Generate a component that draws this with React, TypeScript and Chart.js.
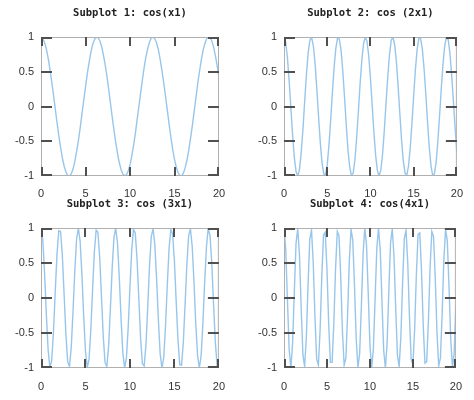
import React, { useEffect, useRef } from "react";
import { Chart, registerables } from "chart.js";

Chart.register(...registerables);

// ---------- data ----------
const X_VALUES = [
  0, 0.2, 0.4, 0.6, 0.8, 1, 1.2, 1.4, 1.6, 1.8,
  2, 2.2, 2.4, 2.6, 2.8, 3, 3.2, 3.4, 3.6, 3.8,
  4, 4.2, 4.4, 4.6, 4.8, 5, 5.2, 5.4, 5.6, 5.8,
  6, 6.2, 6.4, 6.6, 6.8, 7, 7.2, 7.4, 7.6, 7.8,
  8, 8.2, 8.4, 8.6, 8.8, 9, 9.2, 9.4, 9.6, 9.8,
  10, 10.2, 10.4, 10.6, 10.8, 11, 11.2, 11.4, 11.6, 11.8,
  12, 12.2, 12.4, 12.6, 12.8, 13, 13.2, 13.4, 13.6, 13.8,
  14, 14.2, 14.4, 14.6, 14.8, 15, 15.2, 15.4, 15.6, 15.8,
  16, 16.2, 16.4, 16.6, 16.8, 17, 17.2, 17.4, 17.6, 17.8,
  18, 18.2, 18.4, 18.6, 18.8, 19, 19.2, 19.4, 19.6, 19.8,
  20,
];

const COS_X1 = [
  1, 0.98, 0.92, 0.83, 0.7, 0.54, 0.36, 0.17, -0.03, -0.23,
  -0.42, -0.59, -0.74, -0.86, -0.94, -0.99, -1, -0.97, -0.9, -0.79,
  -0.65, -0.49, -0.31, -0.11, 0.09, 0.28, 0.47, 0.63, 0.78, 0.89,
  0.96, 1, 0.99, 0.95, 0.87, 0.75, 0.61, 0.44, 0.25, 0.05,
  -0.15, -0.34, -0.52, -0.68, -0.81, -0.91, -0.97, -1, -0.98, -0.93,
  -0.84, -0.71, -0.56, -0.39, -0.19, 0, 0.2, 0.39, 0.57, 0.72,
  0.84, 0.93, 0.99, 1, 0.97, 0.91, 0.81, 0.67, 0.51, 0.33,
  0.14, -0.06, -0.26, -0.45, -0.62, -0.76, -0.87, -0.95, -0.99, -1,
  -0.96, -0.88, -0.77, -0.63, -0.46, -0.28, -0.08, 0.12, 0.32, 0.5,
  0.66, 0.8, 0.9, 0.97, 1, 0.99, 0.94, 0.85, 0.73, 0.58,
  0.41,
];

const COS_2X1 = [
  1, 0.92, 0.7, 0.36, -0.03, -0.42, -0.74, -0.94, -1, -0.9,
  -0.65, -0.31, 0.09, 0.47, 0.78, 0.96, 0.99, 0.87, 0.61, 0.25,
  -0.15, -0.52, -0.81, -0.97, -0.98, -0.84, -0.56, -0.19, 0.2, 0.57,
  0.84, 0.99, 0.97, 0.81, 0.51, 0.14, -0.26, -0.62, -0.87, -0.99,
  -0.96, -0.77, -0.46, -0.08, 0.32, 0.66, 0.9, 1, 0.94, 0.73,
  0.41, 0.02, -0.37, -0.7, -0.92, -1, -0.92, -0.69, -0.35, 0.04,
  0.42, 0.74, 0.95, 1, 0.89, 0.65, 0.3, -0.1, -0.48, -0.78,
  -0.96, -0.99, -0.86, -0.6, -0.24, 0.15, 0.53, 0.82, 0.98, 0.98,
  0.83, 0.55, 0.19, -0.21, -0.58, -0.85, -0.99, -0.97, -0.8, -0.5,
  -0.13, 0.27, 0.62, 0.88, 1, 0.96, 0.76, 0.45, 0.07, -0.32,
  -0.67,
];

const COS_3X1 = [
  1, 0.83, 0.36, -0.23, -0.74, -0.99, -0.9, -0.49, 0.09, 0.63,
  0.96, 0.95, 0.61, 0.05, -0.52, -0.91, -0.98, -0.71, -0.19, 0.39,
  0.84, 1, 0.81, 0.33, -0.26, -0.76, -0.99, -0.88, -0.46, 0.12,
  0.66, 0.97, 0.94, 0.58, 0.02, -0.55, -0.92, -0.98, -0.69, -0.16,
  0.42, 0.86, 1, 0.79, 0.3, -0.29, -0.78, -1, -0.86, -0.43,
  0.15, 0.69, 0.98, 0.93, 0.55, -0.01, -0.58, -0.94, -0.97, -0.67,
  -0.13, 0.46, 0.88, 0.99, 0.76, 0.27, -0.32, -0.8, -1, -0.85,
  -0.4, 0.19, 0.71, 0.98, 0.91, 0.53, -0.05, -0.6, -0.95, -0.96,
  -0.64, -0.09, 0.48, 0.89, 0.99, 0.74, 0.23, -0.36, -0.82, -1,
  -0.83, -0.37, 0.22, 0.73, 0.99, 0.9, 0.5, -0.08, -0.63, -0.96,
  -0.95,
];

const COS_4X1 = [
  1, 0.7, -0.03, -0.74, -1, -0.65, 0.09, 0.78, 0.99, 0.61,
  -0.15, -0.81, -0.98, -0.56, 0.2, 0.84, 0.97, 0.51, -0.26, -0.87,
  -0.96, -0.46, 0.32, 0.9, 0.94, 0.41, -0.37, -0.92, -0.92, -0.35,
  0.42, 0.95, 0.89, 0.3, -0.48, -0.96, -0.86, -0.24, 0.53, 0.98,
  0.83, 0.19, -0.58, -0.99, -0.8, -0.13, 0.62, 1, 0.76, 0.07,
  -0.67, -1, -0.73, -0.01, 0.71, 1, 0.68, -0.05, -0.75, -1,
  -0.64, 0.11, 0.79, 0.99, 0.59, -0.16, -0.82, -0.98, -0.55, 0.22,
  0.85, 0.97, 0.5, -0.28, -0.88, -0.95, -0.45, 0.33, 0.91, 0.93,
  0.39, -0.39, -0.93, -0.91, -0.34, 0.44, 0.95, 0.88, 0.28, -0.49,
  -0.97, -0.86, -0.23, 0.54, 0.98, 0.82, 0.17, -0.59, -0.99, -0.79,
  -0.11,
];

const TITLES = [
  "Subplot 1: cos(x1)",
  "Subplot 2: cos (2x1)",
  "Subplot 3: cos (3x1)",
  "Subplot 4: cos(4x1)",
];

const X_TICKS = [0, 5, 10, 15, 20];
const X_TICK_LABELS = ["0", "5", "10", "15", "20"];
const Y_TICKS = [-1, -0.5, 0, 0.5, 1];
const Y_TICK_LABELS = ["-1", "-0.5", "0", "0.5", "1"];

// ---------- layout ----------
const SERIES = [COS_X1, COS_2X1, COS_3X1, COS_4X1];
const LAYOUT = [
  { left: 0, top: 0, w: 237, h: 200, L: 41, R: 219, T: 37, B: 176, xPad: 11 },
  { left: 237, top: 0, w: 237, h: 200, L: 47, R: 225, T: 37, B: 176, xPad: 11 },
  { left: 0, top: 191, w: 237, h: 209, L: 41, R: 219, T: 37, B: 177, xPad: 12 },
  { left: 237, top: 191, w: 237, h: 209, L: 47, R: 225, T: 37, B: 177, xPad: 12 },
];

const LINE_COLOR = "rgb(152,198,235)";
const FRAME_COLOR = "#b0b0b0";
const TICK_COLOR = "#505050";
const LABEL_COLOR = "#333333";
const X_TICK_LEN = 9;
const Y_TICK_LEN = 11;

const framePlugin = {
  id: "frame",
  afterDatasetsDraw(chart: any, _args: any, opts: any) {
    const { ctx, chartArea: a, scales } = chart;
    ctx.save();
    ctx.strokeStyle = FRAME_COLOR;
    ctx.lineWidth = 1;
    ctx.strokeRect(a.left + 0.5, a.top + 0.5, a.right - a.left - 1, a.bottom - a.top - 1);

    ctx.strokeStyle = TICK_COLOR;
    ctx.lineWidth = 2;
    ctx.beginPath();
    for (const v of X_TICKS) {
      let px = Math.round(scales.x.getPixelForValue(v));
      if (v === X_TICKS[0]) px += 1;
      if (v === X_TICKS[X_TICKS.length - 1]) px -= 1;
      ctx.moveTo(px, a.top);
      ctx.lineTo(px, a.top + X_TICK_LEN);
      ctx.moveTo(px, a.bottom);
      ctx.lineTo(px, a.bottom - X_TICK_LEN);
    }
    for (const v of Y_TICKS) {
      let py = Math.round(scales.y.getPixelForValue(v));
      if (v === Y_TICKS[0]) py -= 1;
      if (v === Y_TICKS[Y_TICKS.length - 1]) py += 1;
      ctx.moveTo(a.left, py);
      ctx.lineTo(a.left + Y_TICK_LEN, py);
      ctx.moveTo(a.right, py);
      ctx.lineTo(a.right - Y_TICK_LEN, py);
    }
    ctx.stroke();

    ctx.fillStyle = "#222222";
    ctx.font = 'bold 10.5px "DejaVu Sans Mono", monospace';
    ctx.textAlign = "center";
    ctx.textBaseline = "middle";
    ctx.fillText(opts.title, (a.left + a.right) / 2, a.top - 24);
    ctx.restore();
  },
};

function Subplot({ index }: { index: number }) {
  const ref = useRef<HTMLCanvasElement | null>(null);
  const lay = LAYOUT[index];
  useEffect(() => {
    const values = SERIES[index];
    const tickFont = { family: '"Liberation Sans", Arial, sans-serif', size: 11 };
    const chart = new Chart(ref.current as HTMLCanvasElement, {
      type: "line",
      data: {
        datasets: [
          {
            data: X_VALUES.map((x, i) => ({ x, y: values[i] })),
            borderColor: LINE_COLOR,
            borderWidth: 1.4,
            pointRadius: 0,
            tension: 0,
            fill: false,
          },
        ],
      },
      options: {
        animation: false,
        responsive: false,
        events: [],
        layout: {
          padding: { left: lay.L - 41, right: lay.w - lay.R, top: lay.T, bottom: 0 },
        },
        plugins: {
          legend: { display: false },
          tooltip: { enabled: false },
          title: { display: false },
          frame: { title: TITLES[index] },
        } as any,
        scales: {
          x: {
            type: "linear",
            min: 0,
            max: 20,
            grid: { display: false, drawTicks: false },
            border: { display: false },
            afterBuildTicks: (s: any) => {
              s.ticks = X_TICKS.map((v) => ({ value: v }));
            },
            afterFit: (s: any) => {
              s.height = lay.h - lay.B;
            },
            ticks: {
              padding: lay.xPad,
              color: LABEL_COLOR,
              font: tickFont,
              maxRotation: 0,
              autoSkip: false,
              callback: (v: any) => X_TICK_LABELS[X_TICKS.indexOf(Number(v))],
            },
          },
          y: {
            type: "linear",
            min: -1,
            max: 1,
            grid: { display: false, drawTicks: false },
            border: { display: false },
            afterBuildTicks: (s: any) => {
              s.ticks = Y_TICKS.map((v) => ({ value: v }));
            },
            afterFit: (s: any) => {
              s.width = 41;
            },
            ticks: {
              padding: 7,
              color: LABEL_COLOR,
              font: tickFont,
              autoSkip: false,
              callback: (v: any) => Y_TICK_LABELS[Y_TICKS.indexOf(Number(v))],
            },
          },
        },
      } as any,
      plugins: [framePlugin],
    });
    return () => chart.destroy();
  }, [index]);

  return (
    <canvas
      ref={ref}
      width={lay.w}
      height={lay.h}
      style={{ position: "absolute", left: lay.left, top: lay.top, width: lay.w, height: lay.h }}
    />
  );
}

export default function App() {
  return (
    <div
      style={{
        position: "absolute",
        left: 0,
        top: 0,
        width: 474,
        height: 400,
        background: "#ffffff",
        overflow: "hidden",
      }}
    >
      {[0, 1, 2, 3].map((i) => (
        <Subplot key={i} index={i} />
      ))}
    </div>
  );
}
